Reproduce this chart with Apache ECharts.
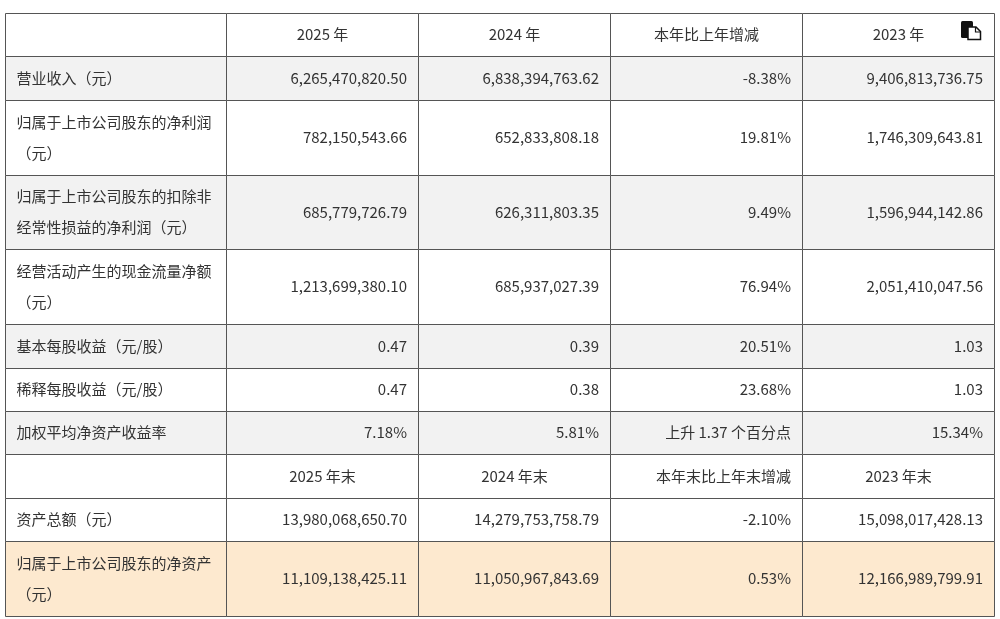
<!DOCTYPE html>
<html>
<head>
<meta charset="utf-8">
<script src="https://cdn.jsdelivr.net/npm/echarts@6/dist/echarts.min.js"></script>
<style>
html,body{margin:0;padding:0;background:#fff;}
#main{width:1000px;height:619px;}
</style>
</head>
<body>
<div id="main"></div>
<script>
// ---- table content ----
var header1 = ['', '2025 年', '2024 年', '本年比上年增减', '2023 年'];
var header2 = ['', '2025 年末', '2024 年末', '本年末比上年末增减', '2023 年末'];
var rowLabels = [
  '营业收入（元）',
  '归属于上市公司股东的净利润\n（元）',
  '归属于上市公司股东的扣除非\n经常性损益的净利润（元）',
  '经营活动产生的现金流量净额\n（元）',
  '基本每股收益（元/股）',
  '稀释每股收益（元/股）',
  '加权平均净资产收益率'
];
var col2025 = ['6,265,470,820.50', '782,150,543.66', '685,779,726.79', '1,213,699,380.10', '0.47', '0.47', '7.18%'];
var col2024 = ['6,838,394,763.62', '652,833,808.18', '626,311,803.35', '685,937,027.39', '0.39', '0.38', '5.81%'];
var colChange = ['-8.38%', '19.81%', '9.49%', '76.94%', '20.51%', '23.68%', '上升 1.37 个百分点'];
var col2023 = ['9,406,813,736.75', '1,746,309,643.81', '1,596,944,142.86', '2,051,410,047.56', '1.03', '1.03', '15.34%'];

var rowLabels2 = ['资产总额（元）', '归属于上市公司股东的净资产\n（元）'];
var col2025End = ['13,980,068,650.70', '11,109,138,425.11'];
var col2024End = ['14,279,753,758.79', '11,050,967,843.69'];
var colChangeEnd = ['-2.10%', '0.53%'];
var col2023End = ['15,098,017,428.13', '12,166,989,799.91'];

// ---- layout (not data) ----
var colWidths = [221, 192, 192, 192, 192];
var SINGLE = 43.4, DOUBLE = 74.9;

var rows = [];
rows.push({cells: header1, kind: 'header', bg: '#ffffff'});
for (var i = 0; i < rowLabels.length; i++) {
  rows.push({cells: [rowLabels[i], col2025[i], col2024[i], colChange[i], col2023[i]], kind: 'body'});
}
rows.push({cells: header2, kind: 'header2', bg: '#ffffff'});
for (var j = 0; j < rowLabels2.length; j++) {
  rows.push({cells: [rowLabels2[j], col2025End[j], col2024End[j], colChangeEnd[j], col2023End[j]], kind: 'body'});
}
var bodyIdx = 0;
rows.forEach(function (r) {
  if (r.kind === 'body') {
    r.bg = (bodyIdx % 2 === 0) ? '#f2f2f2' : '#ffffff';
    bodyIdx++;
  }
});
rows[rows.length - 1].bg = '#fde9cf';

var colX = [0];
colWidths.forEach(function (w) { colX.push(colX[colX.length - 1] + w); });
var rowY = [0];
rows.forEach(function (r) {
  var two = r.cells[0].indexOf('\n') >= 0;
  rowY.push(rowY[rowY.length - 1] + (two ? DOUBLE : SINGLE));
});

var cellData = [];
rows.forEach(function (r, ri) {
  r.cells.forEach(function (t, ci) {
    cellData.push({value: [ci, ri]});
  });
});

var FONT = '"Noto Sans CJK SC", "Microsoft YaHei", sans-serif';

function copyIcon(ix, iy) {
  return [
    {type: 'rect', z2: 10, shape: {x: ix, y: iy, width: 12, height: 17, r: 1.5}, style: {fill: '#111'}},
    {type: 'polygon', z2: 11, shape: {points: [[ix + 7, iy + 6], [ix + 15, iy + 6], [ix + 19.5, iy + 10.5], [ix + 19.5, iy + 18.5], [ix + 7, iy + 18.5]]},
      style: {fill: '#fff', stroke: '#111', lineWidth: 1.5}},
    {type: 'polyline', z2: 12, shape: {points: [[ix + 14.5, iy + 6], [ix + 14.5, iy + 11], [ix + 19.5, iy + 11]]},
      style: {fill: null, stroke: '#111', lineWidth: 1.2}}
  ];
}

function renderItem(params, api) {
  var c = api.value(0), r = api.value(1);
  var p0 = api.coord([colX[c], rowY[r]]);
  var p1 = api.coord([colX[c + 1], rowY[r + 1]]);
  var x0 = Math.round(p0[0]) + 0.5, y0 = Math.round(p0[1]) + 0.5;
  var x1 = Math.round(p1[0]) + 0.5, y1 = Math.round(p1[1]) + 0.5;
  var row = rows[r];
  var txt = row.cells[c];
  var align, tx;
  if (row.kind === 'header' || (row.kind === 'header2' && c !== 3)) {
    align = 'center'; tx = (x0 + x1) / 2;
  } else if (c === 0) {
    align = 'left'; tx = x0 + 11;
  } else {
    align = 'right'; tx = x1 - 11.5;
  }
  var children = [
    {
      type: 'rect',
      shape: {x: x0, y: y0, width: x1 - x0, height: y1 - y0},
      style: {fill: row.bg, stroke: '#555555', lineWidth: 1}
    },
    {
      type: 'text',
      style: {
        text: txt,
        x: tx,
        y: (y0 + y1) / 2 - 0.5,
        align: align,
        verticalAlign: 'middle',
        fontSize: 15,
        fontFamily: FONT,
        lineHeight: 31,
        fill: '#333333'
      }
    }
  ];
  if (r === 0 && c === colWidths.length - 1) {
    children = children.concat(copyIcon(x1 - 33.5, y0 + 7.5));
  }
  return {type: 'group', children: children};
}

var chart = echarts.init(document.getElementById('main'), null, {renderer: 'canvas'});
chart.setOption({
  animation: false,
  grid: {left: 5, top: 13, width: colX[colX.length - 1], height: 603},
  xAxis: {type: 'value', min: 0, max: colX[colX.length - 1], show: false},
  yAxis: {type: 'value', min: 0, max: rowY[rowY.length - 1], inverse: true, show: false},
  series: [{
    type: 'custom',
    renderItem: renderItem,
    data: cellData,
    encode: {x: 0, y: 1},
    clip: false
  }]
});
</script>
</body>
</html>
